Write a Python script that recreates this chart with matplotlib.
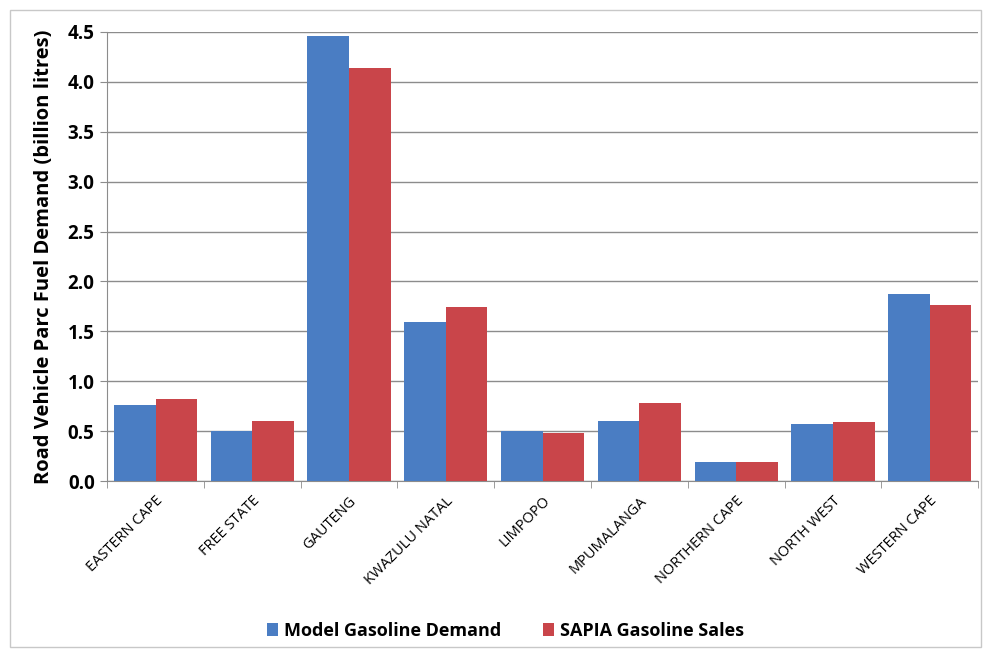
import matplotlib.pyplot as plt
import numpy as np
from matplotlib.patches import Rectangle

plt.rcParams['font.family'] = ['Open Sans', 'DejaVu Sans']

# provincial gasoline demand, billion litres
provinces = ['EASTERN CAPE', 'FREE STATE', 'GAUTENG', 'KWAZULU NATAL', 'LIMPOPO',
             'MPUMALANGA', 'NORTHERN CAPE', 'NORTH WEST', 'WESTERN CAPE']
model_demand = [0.76, 0.50, 4.46, 1.59, 0.50, 0.60, 0.19, 0.57, 1.87]
sapia_sales = [0.82, 0.60, 4.14, 1.74, 0.48, 0.78, 0.19, 0.59, 1.76]
yticks = [0.0, 0.5, 1.0, 1.5, 2.0, 2.5, 3.0, 3.5, 4.0, 4.5]

blue = '#4A7DC3'
red = '#C9454A'

fig = plt.figure(figsize=(9.83, 6.51), dpi=100)
fig.patches.append(Rectangle((0.010, 0.006), 0.988, 0.979, transform=fig.transFigure,
                             fill=False, edgecolor='#C8C8C8', linewidth=1.0))
ax = fig.add_axes([0.109, 0.261, 0.886, 0.690])

x = np.arange(len(provinces))
w = 0.43
ax.bar(x - w / 2, model_demand, w, color=blue, label='Model Gasoline Demand', zorder=3)
ax.bar(x + w / 2, sapia_sales, w, color=red, label='SAPIA Gasoline Sales', zorder=3)

ax.set_xlim(-0.5, len(provinces) - 0.5)
ax.set_ylim(0, 4.5)
ax.set_yticks(yticks)
ax.set_yticklabels([f'{v:.1f}' for v in yticks], fontsize=13.5, fontweight='bold')
ax.yaxis.grid(True, color='#8C8C8C', linewidth=1.0, zorder=0)
ax.set_axisbelow(True)

ax.set_xticks(x)
ax.set_xticklabels(provinces, rotation=45, ha='right', rotation_mode='anchor', fontsize=10.5)
ax.set_xticks(np.arange(-0.5, len(provinces)), minor=True)
ax.tick_params(axis='x', which='major', length=0, pad=9)
ax.tick_params(axis='x', which='minor', length=5, color='#8C8C8C')
ax.tick_params(axis='y', length=5, color='#8C8C8C', pad=4)

for side in ['top', 'right']:
    ax.spines[side].set_visible(False)
for side in ['left', 'bottom']:
    ax.spines[side].set_color('#8C8C8C')

ax.set_ylabel('Road Vehicle Parc Fuel Demand (billion litres)', fontsize=14.5,
              fontweight='bold', labelpad=10)

fig.legend(loc='center', bbox_to_anchor=(0.514, 0.031), ncol=2, frameon=False,
           prop={'size': 13, 'weight': 'bold'}, handlelength=0.65, handleheight=0.65,
           handletextpad=0.3, columnspacing=2.3)

fig.savefig('out.png', dpi=100)
